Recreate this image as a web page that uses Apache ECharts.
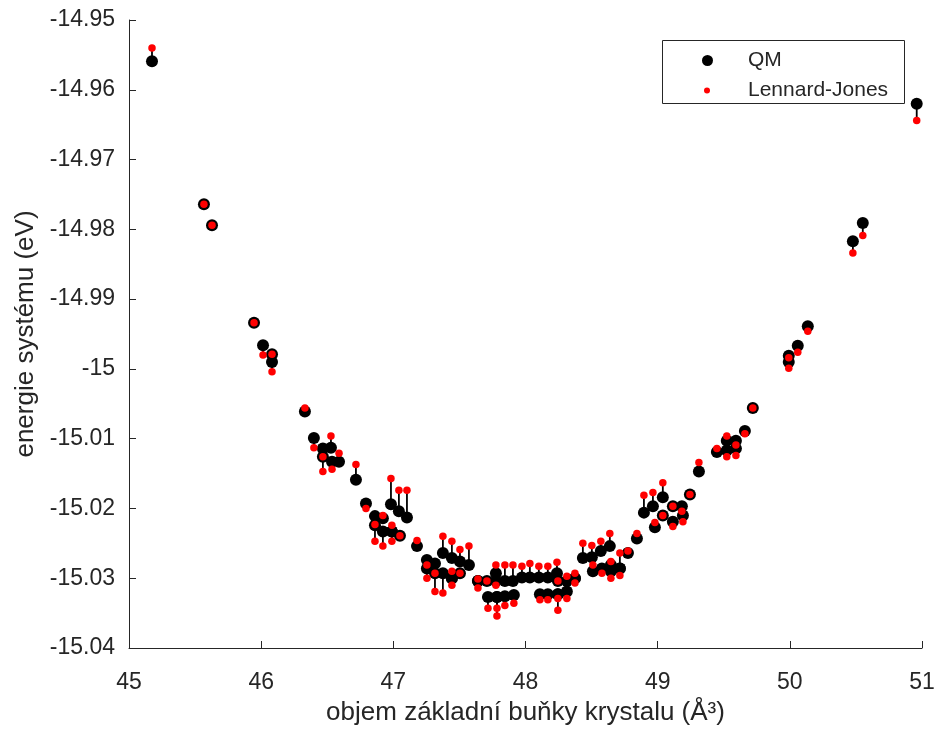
<!DOCTYPE html>
<html>
<head>
<meta charset="utf-8">
<script src="https://cdn.jsdelivr.net/npm/echarts@6/dist/echarts.min.js"></script>
<style>html,body{margin:0;padding:0;background:#fff}#c{width:940px;height:731px}</style>
</head>
<body>
<div id="c"></div>
<script>
// Unit-cell volume (Å^3)
const volumes = [
  45.174, 45.567, 45.628, 45.946, 46.014, 46.082, 46.082, 46.331, 46.399, 46.467,
  46.467, 46.528, 46.536, 46.589, 46.717, 46.793, 46.861, 46.861, 46.921, 46.921,
  46.989, 46.989, 47.050, 46.982, 47.042, 47.103, 47.179, 47.254, 47.254, 47.315,
  47.315, 47.375, 47.375, 47.443, 47.443, 47.443, 47.504, 47.504, 47.572, 47.640,
  47.640, 47.708, 47.716, 47.776, 47.776, 47.784, 47.784, 47.844, 47.844, 47.905,
  47.912, 47.973, 48.033, 48.101, 48.109, 48.169, 48.169, 48.238, 48.245, 48.245,
  48.245, 48.313, 48.313, 48.374, 48.374, 48.434, 48.502, 48.570, 48.638, 48.510,
  48.578, 48.646, 48.646, 48.714, 48.714, 48.775, 48.843, 48.896, 48.964, 49.039,
  48.979, 49.039, 49.115, 49.115, 49.183, 49.191, 49.244, 49.312, 49.448, 49.523,
  49.523, 49.592, 49.592, 49.660, 49.720, 49.992, 49.992, 50.060, 50.136, 50.477,
  50.552, 50.960
];
// QM energies (eV)
const qmEnergies = [
  -14.9559, -14.9764, -14.9794, -14.9934, -14.9966, -14.9979, -14.9990, -15.0061, -15.0099, -15.0114,
  -15.0126, -15.0113, -15.0133, -15.0133, -15.0159, -15.0193, -15.0211, -15.0224, -15.0214, -15.0233,
  -15.0233, -15.0233, -15.0239, -15.0194, -15.0204, -15.0213, -15.0254, -15.0274, -15.0286, -15.0279,
  -15.0293, -15.0264, -15.0293, -15.0271, -15.0300, -15.0300, -15.0276, -15.0293, -15.0281, -15.0304,
  -15.0304, -15.0304, -15.0327, -15.0293, -15.0304, -15.0327, -15.0327, -15.0304, -15.0326, -15.0304,
  -15.0324, -15.0299, -15.0299, -15.0299, -15.0323, -15.0299, -15.0323, -15.0293, -15.0304, -15.0323,
  -15.0323, -15.0304, -15.0319, -15.0300, -15.0300, -15.0271, -15.0270, -15.0261, -15.0254, -15.0290,
  -15.0286, -15.0281, -15.0290, -15.0286, -15.0286, -15.0264, -15.0243, -15.0206, -15.0197, -15.0184,
  -15.0227, -15.0210, -15.0197, -15.0219, -15.0197, -15.0210, -15.0180, -15.0147, -15.0119, -15.0103,
  -15.0117, -15.0103, -15.0114, -15.0089, -15.0056, -14.9981, -14.9990, -14.9967, -14.9939, -14.9817,
  -14.9791, -14.9620
];
// Lennard-Jones energies (eV)
const ljEnergies = [
  -14.9540, -14.9764, -14.9794, -14.9934, -14.9980, -14.9979, -15.0004, -15.0056, -15.0113, -15.0126,
  -15.0147, -15.0096, -15.0144, -15.0121, -15.0137, -15.0200, -15.0223, -15.0247, -15.0210, -15.0254,
  -15.0224, -15.0247, -15.0239, -15.0157, -15.0174, -15.0174, -15.0246, -15.0281, -15.0300, -15.0293,
  -15.0319, -15.0240, -15.0321, -15.0247, -15.0290, -15.0310, -15.0259, -15.0293, -15.0254, -15.0301,
  -15.0314, -15.0304, -15.0343, -15.0281, -15.0310, -15.0343, -15.0354, -15.0281, -15.0339, -15.0281,
  -15.0336, -15.0283, -15.0279, -15.0283, -15.0331, -15.0283, -15.0331, -15.0277, -15.0304, -15.0329,
  -15.0346, -15.0297, -15.0329, -15.0293, -15.0307, -15.0250, -15.0253, -15.0247, -15.0236, -15.0281,
  -15.0293, -15.0276, -15.0300, -15.0264, -15.0296, -15.0261, -15.0236, -15.0181, -15.0177, -15.0163,
  -15.0220, -15.0210, -15.0197, -15.0226, -15.0204, -15.0219, -15.0180, -15.0134, -15.0114, -15.0096,
  -15.0126, -15.0109, -15.0124, -15.0093, -15.0056, -14.9984, -14.9999, -14.9976, -14.9946, -14.9834,
  -14.9809, -14.9644
];
const seriesNames = ['QM', 'Lennard-Jones'];
const xAxisTitle = 'objem základní buňky krystalu (Å³)';
const yAxisTitle = 'energie systému (eV)';

const qmData = volumes.map((v, i) => [v, qmEnergies[i]]);
const ljData = volumes.map((v, i) => [v, ljEnergies[i]]);
const pairData = volumes.map((v, i) => [v, qmEnergies[i], ljEnergies[i]]);

const FONT = '"Liberation Sans", Arial, Helvetica, sans-serif';
const AX = '#262626';

const chart = echarts.init(document.getElementById('c'), null, {renderer: 'canvas'});
chart.setOption({
  animation: false,
  backgroundColor: '#ffffff',
  textStyle: {fontFamily: FONT},
  grid: {left: 129, right: 18, top: 20, bottom: 81, containLabel: false},
  xAxis: {
    type: 'value', min: 45, max: 51, interval: 1,
    name: xAxisTitle, nameLocation: 'middle', nameGap: 52,
    nameTextStyle: {fontFamily: FONT, fontSize: 26, color: AX},
    axisLine: {show: true, onZero: false, lineStyle: {color: AX, width: 1}},
    axisTick: {show: true, inside: true, length: 7, lineStyle: {color: AX}},
    axisLabel: {fontFamily: FONT, fontSize: 23, color: AX, margin: 23},
    splitLine: {show: false}
  },
  yAxis: {
    type: 'value', min: -15.04, max: -14.95, interval: 0.01,
    name: yAxisTitle, nameLocation: 'middle', nameGap: 86, nameRotate: 90,
    nameTextStyle: {fontFamily: FONT, fontSize: 26, color: AX},
    axisLine: {show: true, onZero: false, lineStyle: {color: AX, width: 1}},
    axisTick: {show: true, inside: true, length: 7, lineStyle: {color: AX}},
    axisLabel: {fontFamily: FONT, fontSize: 23, color: AX, margin: 14,
      formatter: v => String(parseFloat(Number(v).toFixed(2)))},
    splitLine: {show: false}
  },
  graphic: [{
    type: 'rect', left: 662, top: 40, z: 3,
    shape: {width: 242, height: 63},
    style: {fill: '#ffffff', stroke: AX, lineWidth: 1}
  }],
  legend: [{
    data: [seriesNames[0]], left: 697, top: 45, orient: 'vertical',
    itemWidth: 11, itemHeight: 11, selectedMode: false, icon: 'circle', z: 5,
    textStyle: {fontFamily: FONT, fontSize: 21, color: AX, padding: [0, 0, 0, 30]}
  }, {
    data: [seriesNames[1]], left: 699, top: 75, orient: 'vertical',
    itemWidth: 6, itemHeight: 6, selectedMode: false, icon: 'circle', z: 5,
    textStyle: {fontFamily: FONT, fontSize: 21, color: AX, padding: [0, 0, 0, 33]}
  }],
  series: [{
    type: 'custom', name: 'pairs', z: 1, silent: true,
    data: pairData,
    renderItem: function (params, api) {
      const a = api.coord([api.value(0), api.value(1)]);
      const b = api.coord([api.value(0), api.value(2)]);
      return {type: 'line', shape: {x1: a[0], y1: a[1], x2: b[0], y2: b[1]},
        style: {stroke: '#000000', lineWidth: 1.8}};
    }
  }, {
    type: 'scatter', name: seriesNames[0], z: 2, data: qmData,
    symbol: 'circle', symbolSize: 12,
    itemStyle: {color: '#000000', opacity: 1}
  }, {
    type: 'scatter', name: seriesNames[1], z: 3, data: ljData,
    symbol: 'circle', symbolSize: 7.5,
    itemStyle: {color: '#ff0000', opacity: 1}
  }]
});
</script>
</body>
</html>
